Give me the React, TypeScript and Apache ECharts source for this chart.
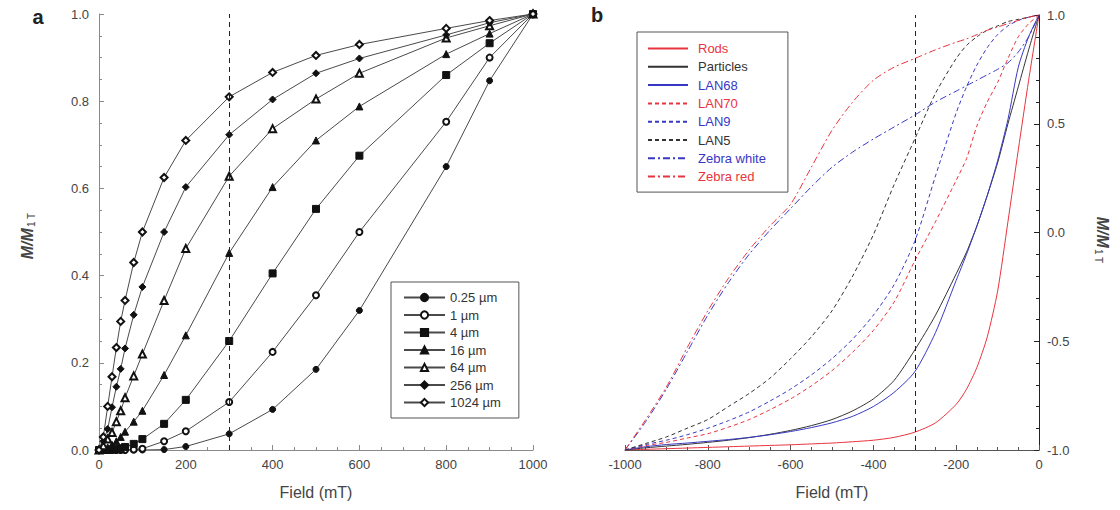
import React, { useEffect, useRef } from 'react';
import * as echarts from 'echarts';

// ---------- Panel a data ----------
const fieldA = [0, 10, 20, 30, 40, 50, 60, 80, 100, 150, 200, 300, 400, 500, 600, 800, 900, 1000];
const namesA = ['0.25 µm', '1 µm', '4 µm', '16 µm', '64 µm', '256 µm', '1024 µm'];
const symbolsA = ['circle', 'emptyCircle', 'rect', 'triangle', 'emptyTriangle', 'diamond', 'emptyDiamond'];
const m025 = [0, 0, 0, 0, 0, 0, 0, 0, 0, 0.001, 0.008, 0.037, 0.093, 0.185, 0.32, 0.65, 0.847, 1];
const m1 = [0, 0, 0, 0, 0, 0, 0, 0.001, 0.003, 0.02, 0.043, 0.11, 0.225, 0.355, 0.5, 0.753, 0.9, 1];
const m4 = [0, 0, 0, 0.001, 0.002, 0.004, 0.007, 0.014, 0.025, 0.06, 0.115, 0.25, 0.405, 0.553, 0.675, 0.86, 0.933, 1];
const m16 = [0, 0.002, 0.006, 0.012, 0.02, 0.03, 0.042, 0.065, 0.09, 0.172, 0.263, 0.452, 0.603, 0.71, 0.788, 0.908, 0.955, 1];
const m64 = [0, 0.01, 0.025, 0.04, 0.065, 0.09, 0.12, 0.17, 0.22, 0.343, 0.462, 0.628, 0.737, 0.805, 0.864, 0.945, 0.973, 1];
const m256 = [0, 0.02, 0.048, 0.098, 0.145, 0.186, 0.233, 0.31, 0.374, 0.5, 0.603, 0.723, 0.804, 0.864, 0.898, 0.952, 0.98, 1];
const m1024 = [0, 0.03, 0.1, 0.168, 0.235, 0.295, 0.343, 0.43, 0.5, 0.625, 0.71, 0.81, 0.866, 0.905, 0.93, 0.967, 0.985, 1];
const valuesA = [m025, m1, m4, m16, m64, m256, m1024];
const xTicksA = { min: 0, max: 1000, interval: 200 };
const yTicksA = { min: 0, max: 1, interval: 0.2 };

// ---------- Panel b data ----------
const fieldB = [-1000, -950, -900, -850, -800, -750, -700, -650, -600, -550, -500, -450, -400, -350, -300, -250, -200, -175, -150, -125, -100, -75, -50, -25, 0];
const rods = [-1, -0.997, -0.994, -0.991, -0.988, -0.985, -0.982, -0.979, -0.976, -0.972, -0.968, -0.962, -0.955, -0.942, -0.918, -0.875, -0.79, -0.72, -0.62, -0.48, -0.27, 0.05, 0.38, 0.7, 1];
const particles = [-1, -0.99, -0.982, -0.974, -0.965, -0.955, -0.943, -0.928, -0.91, -0.888, -0.86, -0.82, -0.765, -0.68, -0.54, -0.38, -0.19, -0.09, 0.03, 0.17, 0.32, 0.5, 0.67, 0.84, 1];
const lan68 = [-1, -0.985, -0.975, -0.968, -0.96, -0.952, -0.942, -0.93, -0.915, -0.897, -0.875, -0.845, -0.8, -0.735, -0.64, -0.46, -0.22, -0.1, 0.03, 0.17, 0.33, 0.52, 0.76, 0.9, 1];
const lan70 = [-1, -0.98, -0.965, -0.945, -0.925, -0.895, -0.86, -0.815, -0.765, -0.705, -0.635, -0.55, -0.45, -0.32, -0.13, 0.05, 0.24, 0.34, 0.49, 0.6, 0.69, 0.8, 0.9, 0.96, 1];
const lan9 = [-1, -0.975, -0.955, -0.93, -0.9, -0.865, -0.825, -0.775, -0.72, -0.655, -0.58, -0.49, -0.38, -0.24, -0.04, 0.26, 0.55, 0.67, 0.77, 0.85, 0.91, 0.95, 0.975, 0.99, 1];
const lan5 = [-1, -0.97, -0.94, -0.9, -0.86, -0.8, -0.74, -0.67, -0.58, -0.48, -0.36, -0.2, -0.01, 0.22, 0.43, 0.64, 0.8, 0.86, 0.9, 0.93, 0.95, 0.97, 0.98, 0.99, 1];
const zebraWhite = [-1, -0.87, -0.72, -0.55, -0.38, -0.23, -0.1, 0.01, 0.11, 0.21, 0.3, 0.37, 0.43, 0.485, 0.54, 0.6, 0.65, 0.675, 0.7, 0.725, 0.75, 0.78, 0.83, 0.9, 1];
const zebraRed = [-1, -0.86, -0.71, -0.53, -0.36, -0.21, -0.08, 0.03, 0.13, 0.3, 0.47, 0.6, 0.7, 0.76, 0.8, 0.84, 0.875, 0.89, 0.91, 0.93, 0.945, 0.96, 0.975, 0.99, 1];
const namesB = ['Rods', 'Particles', 'LAN68', 'LAN70', 'LAN9', 'LAN5', 'Zebra white', 'Zebra red'];
const valuesB = [rods, particles, lan68, lan70, lan9, lan5, zebraWhite, zebraRed];
const xTicksB = { min: -1000, max: 0, interval: 200 };
const yTicksB = { min: -1, max: 1, interval: 0.5 };

const RED = '#e8343e';
const BLUE = '#3838c4';
const BLACK = '#333333';
const colorsB = [RED, BLACK, BLUE, RED, BLUE, BLACK, BLUE, RED];
const DASH = [4, 3];
const DASHDOT = [7, 3, 2, 3];
const dashB: any[] = ['solid', 'solid', 'solid', DASH, DASH, DASH, DASHDOT, DASHDOT];

const FONT = 'Liberation Sans, Arial, Helvetica, sans-serif';

export default function App() {
  const ref = useRef<HTMLDivElement>(null);
  useEffect(() => {
    if (!ref.current) return;
    const chart = echarts.init(ref.current, null, { renderer: 'svg' });

    const seriesA = namesA.map((name, i) => ({
      type: 'line',
      name,
      xAxisIndex: 0,
      yAxisIndex: 0,
      data: fieldA.map((x, j) => [x, valuesA[i][j]]),
      symbol: symbolsA[i],
      symbolSize: symbolsA[i].includes('ircle') ? 6 : 7,
      showAllSymbol: true,
      lineStyle: { color: '#4a4a4a', width: 1 },
      itemStyle: { color: '#111', borderColor: '#111', borderWidth: 1 },
      z: 3,
      ...(i === 0
        ? {
            markLine: {
              silent: true,
              symbol: 'none',
              label: { show: false },
              lineStyle: { type: [5, 4], color: '#222', width: 1 },
              data: [{ xAxis: 300 }],
            },
          }
        : {}),
    }));

    const seriesB = namesB.map((name, i) => ({
      type: 'line',
      name,
      xAxisIndex: 1,
      yAxisIndex: 1,
      data: fieldB.map((x, j) => [x, valuesB[i][j]]),
      symbol: 'none',
      smooth: 0.25,
      lineStyle: { color: colorsB[i], width: 1, type: dashB[i] },
      itemStyle: { color: colorsB[i] },
      ...(i === 0
        ? {
            markLine: {
              silent: true,
              symbol: 'none',
              label: { show: false },
              lineStyle: { type: [5, 4], color: '#222', width: 1 },
              data: [{ xAxis: -300 }],
            },
          }
        : {}),
    }));

    const axisCommon = (color: string) => ({
      axisLine: { show: true, onZero: false, lineStyle: { color, width: 1 } },
      axisTick: { show: true, inside: true, length: 5, lineStyle: { color } },
      splitLine: { show: false },
      minorSplitLine: { show: false },
    });
    const labelStyle = { color: '#444', fontSize: 13, fontFamily: FONT };

    const option: any = {
      animation: false,
      backgroundColor: '#fff',
      textStyle: { fontFamily: FONT },
      grid: [
        { left: 99, top: 14, width: 434, height: 436 },
        { left: 625, top: 15, width: 414, height: 435 },
      ],
      xAxis: [
        {
          type: 'value',
          gridIndex: 0,
          ...xTicksA,
          ...axisCommon('#8a8a8a'),
          minorTick: { show: true, splitNumber: 4, length: 3, lineStyle: { color: '#8a8a8a' } },
          axisLabel: { ...labelStyle, margin: 8, formatter: (v: number) => String(v) },
        },
        {
          type: 'value',
          gridIndex: 1,
          ...xTicksB,
          ...axisCommon('#555'),
          minorTick: { show: true, splitNumber: 4, length: 3, lineStyle: { color: '#555' } },
          axisLabel: { ...labelStyle, margin: 8, formatter: (v: number) => String(v) },
        },
      ],
      yAxis: [
        {
          type: 'value',
          gridIndex: 0,
          ...yTicksA,
          ...axisCommon('#8a8a8a'),
          minorTick: { show: true, splitNumber: 4, length: 3, lineStyle: { color: '#8a8a8a' } },
          axisLabel: { ...labelStyle, margin: 10, formatter: (v: number) => v.toFixed(1) },
        },
        {
          type: 'value',
          gridIndex: 1,
          position: 'right',
          ...yTicksB,
          ...axisCommon('#222'),
          minorTick: { show: true, splitNumber: 5, length: 3, lineStyle: { color: '#222' } },
          axisLabel: { ...labelStyle, margin: 8, formatter: (v: number) => v.toFixed(1) },
        },
      ],
      legend: [
        {
          orient: 'vertical',
          left: 391,
          top: 282,
          data: namesA,
          itemWidth: 41,
          itemHeight: 9,
          itemGap: 4.5,
          padding: [9, 18, 9, 12],
          borderColor: '#555',
          borderWidth: 1,
          backgroundColor: '#fff',
          textStyle: { fontSize: 13, color: '#333', fontFamily: FONT, lineHeight: 12 },
          selectedMode: false,
        },
        {
          orient: 'vertical',
          left: 637,
          top: 32,
          data: namesB.map((n, i) => ({ name: n, textStyle: { color: colorsB[i] } })),
          itemWidth: 40,
          itemHeight: 12,
          itemGap: 5.3,
          padding: [10, 22, 9, 10],
          borderColor: '#555',
          borderWidth: 1,
          backgroundColor: '#fff',
          itemStyle: { opacity: 0 },
          textStyle: { fontSize: 13, fontFamily: FONT, padding: [0, 0, 0, 5] },
          selectedMode: false,
        },
      ],
      graphic: [
        { type: 'text', x: 38, y: 17, style: { text: 'a', font: `bold 20px ${FONT}`, fill: '#222', align: 'center', verticalAlign: 'middle' } },
        { type: 'text', x: 597, y: 15, style: { text: 'b', font: `bold 20px ${FONT}`, fill: '#222', align: 'center', verticalAlign: 'middle' } },
        { type: 'text', x: 316, y: 492, style: { text: 'Field (mT)', font: `16px ${FONT}`, fill: '#444', align: 'center', verticalAlign: 'middle' } },
        { type: 'text', x: 832, y: 492, style: { text: 'Field (mT)', font: `16px ${FONT}`, fill: '#444', align: 'center', verticalAlign: 'middle' } },
        {
          type: 'text',
          x: 27,
          y: 236,
          rotation: Math.PI / 2,
          style: {
            text: '{m|M/M}{s|1 T}',
            align: 'center',
            verticalAlign: 'middle',
            fill: '#444',
            rich: {
              m: { font: `italic bold 16px ${FONT}`, fill: '#444' },
              s: { font: `10px ${FONT}`, fill: '#444', padding: [8, 0, 0, 1] },
            },
          },
        },
        {
          type: 'text',
          x: 1102,
          y: 240,
          rotation: -Math.PI / 2,
          style: {
            text: '{m|M/M}{s|1 T}',
            align: 'center',
            verticalAlign: 'middle',
            fill: '#444',
            rich: {
              m: { font: `italic bold 16px ${FONT}`, fill: '#444' },
              s: { font: `10px ${FONT}`, fill: '#444', padding: [8, 0, 0, 1] },
            },
          },
        },
      ],
      series: [...seriesA, ...seriesB],
    };
    chart.setOption(option);
    return () => chart.dispose();
  }, []);
  return <div ref={ref} style={{ position: 'fixed', left: 0, top: 0, width: 1120, height: 510 }} />;
}
